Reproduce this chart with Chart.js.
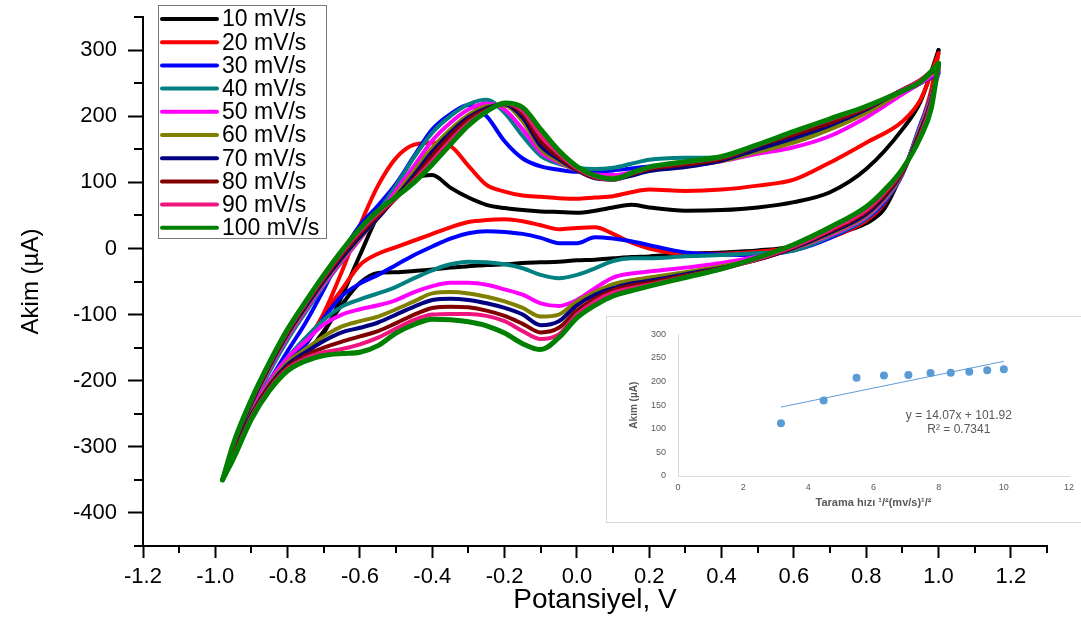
<!DOCTYPE html>
<html>
<head>
<meta charset="utf-8">
<script src="https://cdn.jsdelivr.net/npm/chart.js@4.4.0/dist/chart.umd.min.js"></script>
<style>
  html, body { margin: 0; padding: 0; background: #fff; overflow: hidden; }
  #wrap { position: relative; width: 1081px; height: 619px; }
  #main { position: absolute; left: 0; top: 0; }
  #insetBox { position: absolute; left: 606px; top: 316px; width: 480px; height: 205px; border: 1px solid #d9d9d9; background: #fff; }
</style>
</head>
<body>
<div id="wrap">
  <canvas id="main" width="1081" height="619"></canvas>
  <div id="insetBox"><canvas id="inset" width="480" height="205"></canvas></div>
</div>
<script>
// Potentiel (V) : balayage aller puis retour
const vUp = [-0.98,-0.95,-0.9,-0.85,-0.8,-0.75,-0.7,-0.65,-0.6,-0.55,-0.5,-0.45,-0.4,-0.35,-0.3,-0.25,-0.2,-0.15,-0.1,-0.05,0,0.05,0.1,0.15,0.2,0.3,0.4,0.5,0.6,0.7,0.8,0.9,0.95,1.0];
const vDown = [1.0,0.98,0.95,0.9,0.85,0.8,0.7,0.6,0.5,0.4,0.3,0.2,0.15,0.1,0.05,0,-0.05,-0.1,-0.15,-0.2,-0.25,-0.3,-0.35,-0.4,-0.45,-0.5,-0.55,-0.6,-0.65,-0.7,-0.75,-0.8,-0.85,-0.9,-0.95,-0.98];

// Courant (µA) sur la branche aller
const up10  = [-350,-308,-248,-203,-178,-160,-128,-72,-10,50,88,106,111,92,77,66,61,58,56,55,54,57,62,66,62,57,58,62,70,85,120,180,222,300];
const up20  = [-350,-306,-250,-205,-175,-145,-98,-35,35,95,137,157,160,155,125,96,86,80,78,76,75,77,79,85,89,87,89,95,104,130,160,192,225,295];
const up30  = [-350,-303,-245,-200,-155,-112,-62,-8,35,65,98,140,180,203,217,200,162,136,124,119,116,116,118,121,124,127,134,148,165,185,210,235,250,265];
const up40  = [-350,-300,-240,-186,-138,-96,-56,-20,15,55,95,138,175,200,218,225,205,170,140,128,122,120,122,128,134,137,138,150,165,186,208,236,250,270];
const up50  = [-350,-299,-237,-182,-134,-93,-54,-19,14,50,88,125,163,190,210,219,210,180,145,130,118,112,111,115,120,125,132,143,153,170,198,233,250,268];
const up60  = [-350,-298,-235,-180,-131,-90,-51,-16,16,47,82,117,152,180,202,215,216,192,150,132,118,109,107,112,118,124,132,146,160,180,205,237,252,272];
const up70  = [-350,-298,-234,-178,-129,-88,-49,-14,18,46,78,111,146,175,198,212,218,198,155,135,118,106,104,110,117,123,133,150,167,186,210,240,254,275];
const up80  = [-350,-297,-232,-176,-127,-85,-46,-10,22,49,76,106,140,170,195,210,219,203,162,138,119,107,105,112,120,127,135,155,172,190,212,240,255,276];
const up90  = [-350,-296,-230,-174,-125,-83,-43,-6,26,53,77,103,133,163,190,208,219,208,170,143,121,108,104,113,122,130,138,156,176,195,214,240,255,278];
const up100 = [-350,-295,-228,-172,-122,-80,-40,-3,30,57,78,100,127,157,186,207,220,213,180,148,124,110,105,114,123,131,139,157,177,196,215,238,252,280];

// Courant (µA) sur la branche retour
const down10  = [300,236,180,115,60,38,20,3,-3,-6,-8,-12,-13,-15,-17,-18,-20,-21,-22,-24,-25,-27,-29,-32,-34,-36,-37,-52,-85,-125,-160,-180,-205,-250,-310,-350];
const down20  = [295,240,185,115,68,42,16,2,-5,-8,-8,0,9,22,32,31,29,35,41,44,43,40,32,22,12,2,-8,-25,-62,-100,-145,-175,-207,-252,-312,-350];
const down30  = [265,230,188,112,70,45,16,-3,-10,-9,-6,5,11,15,17,8,8,16,22,25,26,23,15,3,-10,-25,-40,-53,-72,-105,-145,-172,-205,-250,-310,-350];
const down40  = [270,230,186,112,72,46,18,-3,-7,-10,-12,-15,-15,-19,-30,-40,-45,-40,-30,-24,-21,-20,-24,-33,-45,-58,-68,-77,-88,-108,-135,-165,-200,-248,-308,-350];
const down50  = [268,228,184,113,74,48,20,0,-12,-22,-29,-35,-38,-44,-60,-78,-87,-83,-70,-62,-55,-52,-52,-57,-66,-78,-86,-92,-100,-115,-140,-165,-200,-247,-307,-350];
const down60  = [272,226,182,114,76,50,22,0,-16,-27,-36,-44,-48,-54,-66,-80,-100,-103,-90,-80,-73,-68,-66,-68,-80,-92,-103,-110,-118,-133,-152,-172,-205,-250,-309,-350];
const down70  = [275,224,178,115,78,52,24,1,-17,-29,-39,-49,-53,-60,-70,-86,-110,-116,-100,-90,-83,-78,-76,-78,-88,-100,-112,-120,-127,-140,-157,-176,-207,-251,-310,-350];
const down80  = [276,222,175,116,80,55,26,2,-17,-30,-41,-52,-56,-63,-76,-94,-120,-127,-114,-102,-94,-89,-88,-90,-100,-113,-125,-133,-141,-150,-162,-179,-209,-253,-312,-350];
const down90  = [278,220,172,118,84,58,28,3,-16,-31,-43,-55,-60,-67,-80,-100,-130,-137,-125,-110,-102,-99,-99,-100,-108,-121,-135,-145,-152,-157,-166,-182,-212,-255,-315,-350];
const down100 = [280,212,168,120,88,63,32,6,-14,-31,-44,-57,-64,-72,-86,-105,-135,-153,-144,-128,-117,-111,-108,-107,-115,-128,-147,-157,-159,-162,-170,-185,-215,-258,-318,-350];

const seriesLabels = ['10 mV/s','20 mV/s','30 mV/s','40 mV/s','50 mV/s','60 mV/s','70 mV/s','80 mV/s','90 mV/s','100 mV/s'];
const seriesColors = ['#000000','#ff0000','#0000ff','#008080','#ff00ff','#808000','#000080','#800000','#f0147f','#008000'];
const upSeries = [up10, up20, up30, up40, up50, up60, up70, up80, up90, up100];
const downSeries = [down10, down20, down30, down40, down50, down60, down70, down80, down90, down100];

// Encart : pic anodique en fonction de la racine de la vitesse
const sqrtRate = [3.16, 4.47, 5.48, 6.32, 7.07, 7.75, 8.37, 8.94, 9.49, 10.0];
const peakCurrent = [112, 160, 208, 213, 214, 218, 219, 221, 224, 226];
const trendX = [3.16, 10.0];
const trendY = [146, 243];

Chart.defaults.font.family = '"Liberation Sans", Arial, sans-serif';
Chart.defaults.color = '#000';

function toPoints(xs, ys) {
  return xs.map((x, k) => ({ x: x, y: ys[k] }));
}

const datasets = [];
seriesLabels.forEach((lab, i) => {
  const common = {
    borderColor: seriesColors[i],
    backgroundColor: seriesColors[i],
    borderWidth: i === 9 ? 5 : 4,
    pointRadius: 0,
    showLine: true,
    cubicInterpolationMode: 'monotone',
    borderCapStyle: 'round',
    borderJoinStyle: 'round',
    order: 9 - i
  };
  datasets.push({ ...common, label: lab, data: toPoints(vUp, upSeries[i]) });
  datasets.push({ ...common, label: '', data: toPoints(vDown, downSeries[i]) });
});

const isMajorX = v => Math.abs(Math.round(v * 10)) % 2 === 0;
const isMajorY = v => Math.round(v) % 100 === 0;

// petites graduations
const minorTicks = {
  id: 'minorTicks',
  afterDraw(chart) {
    const { ctx } = chart;
    const x = chart.scales.x, y = chart.scales.y;
    ctx.save();
    ctx.strokeStyle = '#000';
    ctx.lineWidth = 2;
    ctx.beginPath();
    x.ticks.forEach(t => {
      if (isMajorX(t.value)) return;
      const px = Math.round(x.getPixelForValue(t.value));
      ctx.moveTo(px, x.top); ctx.lineTo(px, x.top + 7);
    });
    y.ticks.forEach(t => {
      if (isMajorY(t.value)) return;
      const py = Math.round(y.getPixelForValue(t.value));
      ctx.moveTo(y.right, py); ctx.lineTo(y.right - 9, py);
    });
    ctx.stroke();
    ctx.restore();
  }
};

// légende encadrée dans la zone du graphe
const boxLegend = {
  id: 'boxLegend',
  afterDraw(chart) {
    const { ctx, chartArea } = chart;
    const items = chart.data.datasets.filter(d => d.label);
    const left = chartArea.left + 15, top = 5, w = 168, rowH = 23.2;
    const h = items.length * rowH + 1;
    ctx.save();
    ctx.fillStyle = '#fff';
    ctx.fillRect(left, top, w, h);
    ctx.strokeStyle = '#777';
    ctx.lineWidth = 1;
    ctx.strokeRect(left + 0.5, top + 0.5, w, h);
    ctx.font = '23px "Liberation Sans", Arial, sans-serif';
    ctx.textBaseline = 'middle';
    items.forEach((d, i) => {
      const yy = top + 14 + i * rowH;
      ctx.strokeStyle = d.borderColor;
      ctx.lineWidth = 4;
      ctx.lineCap = 'round';
      ctx.beginPath();
      ctx.moveTo(left + 4, yy);
      ctx.lineTo(left + 59, yy);
      ctx.stroke();
      ctx.fillStyle = '#000';
      ctx.fillText(d.label, left + 64, yy + 1);
    });
    ctx.restore();
  }
};

new Chart(document.getElementById('main'), {
  type: 'scatter',
  data: { datasets: datasets },
  options: {
    responsive: false,
    animation: false,
    layout: { padding: { top: 17, right: 34, left: 0, bottom: 0 } },
    plugins: { legend: { display: false }, tooltip: { enabled: false } },
    scales: {
      x: {
        type: 'linear', min: -1.2, max: 1.3,
        ticks: {
          stepSize: 0.1, autoSkip: false, maxRotation: 0, padding: 6,
          font: { size: 22 }, color: '#000',
          callback: v => isMajorX(v) ? v.toFixed(1) : ''
        },
        grid: {
          drawOnChartArea: false, tickLength: 12, tickWidth: 2,
          tickColor: c => isMajorX(c.tick.value) ? '#000' : 'rgba(0,0,0,0)'
        },
        border: { color: '#000', width: 2 },
        title: { display: true, text: 'Potansiyel, V', font: { size: 28 }, color: '#000', padding: { top: 0, bottom: 2 } },
        afterFit: s => { s.height = 73; s.paddingLeft = 0; s.paddingRight = 0; }
      },
      y: {
        type: 'linear', min: -450, max: 350,
        ticks: {
          stepSize: 50, autoSkip: false, padding: 11,
          font: { size: 22 }, color: '#000',
          callback: v => isMajorY(v) ? String(v) : ''
        },
        grid: {
          drawOnChartArea: false, tickLength: 15, tickWidth: 2,
          tickColor: c => isMajorY(c.tick.value) ? '#000' : 'rgba(0,0,0,0)'
        },
        border: { color: '#000', width: 2 },
        title: { display: true, text: 'Akim (µA)', font: { size: 24 }, color: '#000', padding: { top: 17, bottom: 0 } },
        afterFit: s => { s.width = 143; s.paddingTop = 0; s.paddingBottom = 0; }
      }
    }
  },
  plugins: [minorTicks, boxLegend]
});

// équation de la droite de tendance
const trendLabel = {
  id: 'trendLabel',
  afterDraw(chart) {
    const { ctx } = chart;
    const x = chart.scales.x, y = chart.scales.y;
    ctx.save();
    ctx.fillStyle = '#595959';
    ctx.font = '12px "Liberation Sans", Arial, sans-serif';
    ctx.textAlign = 'center';
    ctx.textBaseline = 'middle';
    ctx.fillText('y = 14.07x + 101.92', x.getPixelForValue(8.62), y.getPixelForValue(128));
    ctx.fillText('R² = 0.7341', x.getPixelForValue(8.62), y.getPixelForValue(99));
    ctx.restore();
  }
};

new Chart(document.getElementById('inset'), {
  type: 'scatter',
  data: {
    datasets: [
      { data: toPoints(sqrtRate, peakCurrent), backgroundColor: '#5b9bd5', borderColor: '#5b9bd5', pointRadius: 4, pointBorderWidth: 0 },
      { data: toPoints(trendX, trendY), showLine: true, borderColor: '#5b9bd5', borderWidth: 1, pointRadius: 0 }
    ]
  },
  options: {
    responsive: false,
    animation: false,
    layout: { padding: { top: 11, right: 18, left: 0, bottom: 0 } },
    plugins: { legend: { display: false }, tooltip: { enabled: false } },
    scales: {
      x: {
        min: 0, max: 12,
        ticks: { stepSize: 2, padding: 6, font: { size: 9 }, color: '#595959' },
        grid: { display: false, drawTicks: false },
        border: { color: '#d9d9d9' },
        title: { display: true, text: 'Tarama hızı ¹/²(mv/s)¹/²', font: { size: 11, weight: 'bold' }, color: '#595959', padding: { top: 0, bottom: 12 } },
        afterFit: s => { s.height = 46; }
      },
      y: {
        min: 0, max: 300,
        ticks: { stepSize: 50, padding: 12, font: { size: 9 }, color: '#595959' },
        grid: { display: false, drawTicks: false },
        border: { color: '#d9d9d9' },
        title: { display: true, text: 'Akım (µA)', font: { size: 10, weight: 'bold' }, color: '#595959', padding: { top: 21, bottom: 0 } },
        afterFit: s => { s.width = 71; }
      }
    }
  },
  plugins: [trendLabel]
});
</script>
</body>
</html>
